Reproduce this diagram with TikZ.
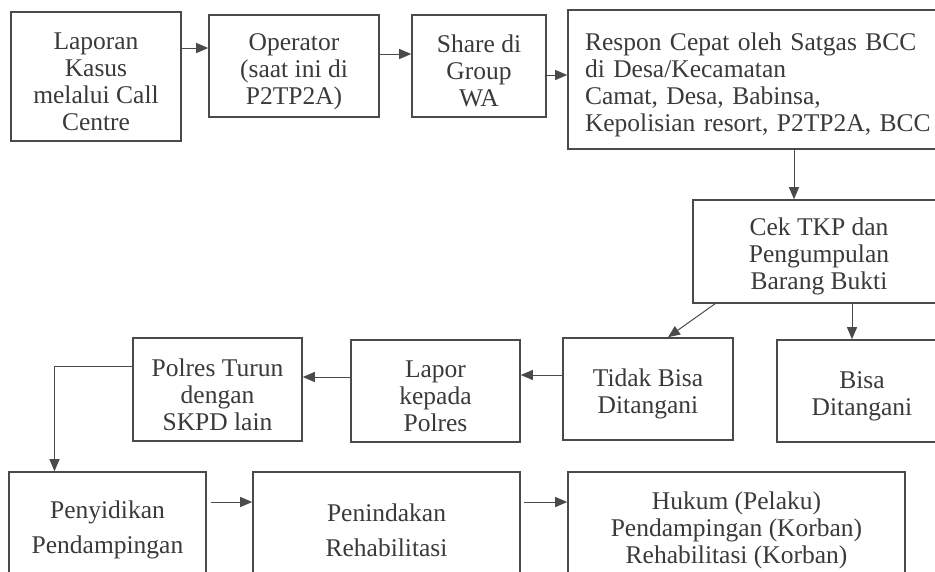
\documentclass[tikz,border=0pt]{standalone}
\usepackage{fontspec}
\setmainfont{Liberation Serif}
\usetikzlibrary{arrows.meta}
\definecolor{linegray}{HTML}{4A4A4A}
\definecolor{textgray}{HTML}{3A3A3A}
\newcommand{\tstrut}{\rule{0pt}{28pt}}
\tikzset{
  box/.style={draw=linegray,line width=1.6pt,align=center,inner sep=0pt,
    text=textgray,font=\fontsize{25.5}{27}\selectfont},
  arr/.style={draw=linegray,line width=1pt,-{Triangle[length=12pt,width=10pt]}}
}
\begin{document}
\begin{tikzpicture}[x=1pt,y=-1pt]
  \useasboundingbox (0,0) rectangle (935,571);
  \clip (0,0) rectangle (935,571);
  \begin{scope}[every node/.style={box}]
    % top row
    \node[minimum width=170pt,minimum height=129pt] (lap) at (96,76.5) {\tstrut Laporan\\Kasus\\melalui Call\\Centre};
    \node[minimum width=170pt,minimum height=102pt] (opr) at (294,66) {\tstrut Operator\\(saat ini di\\P2TP2A)};
    \node[minimum width=134pt,minimum height=102pt] (share) at (479,66) {\tstrut Share di\\Group\\WA};
    \node[text width=358pt,align=left,inner xsep=17pt,minimum height=139pt] (respon) at (764,79.5)
      {\tstrut Respon Cepat oleh Satgas BCC\\di Desa/Kecamatan\\Camat, Desa, Babinsa,\\Kepolisian resort, P2TP2A, BCC};
    \node[minimum width=252pt,minimum height=103pt] (cek) at (819,251.5) {\tstrut Cek TKP dan\\Pengumpulan\\Barang Bukti};
    % middle row
    \node[minimum width=170pt,minimum height=102pt] (bisa) at (862,391) {\tstrut Bisa\\Ditangani};
    \node[minimum width=170pt,minimum height=102pt] (tidak) at (648,389) {\tstrut Tidak Bisa\\Ditangani};
    \node[minimum width=169pt,minimum height=102pt] (lapor) at (435.5,391) {\tstrut Lapor\\kepada\\Polres};
    \node[minimum width=169pt,minimum height=103pt] (polres) at (217.5,389.5) {\tstrut Polres Turun\\dengan\\SKPD lain};
    % bottom row
    \node[minimum width=197pt,minimum height=106pt] (peny) at (107.5,525) {\tstrut Penyidikan\\[8pt]Pendampingan};
    \node[minimum width=267pt,minimum height=106pt] (penind) at (386.5,525) {\tstrut Penindakan\\[8pt]Rehabilitasi};
    \node[minimum width=337pt,minimum height=106pt] (hukum) at (736.5,525) {\tstrut Hukum (Pelaku)\\Pendampingan (Korban)\\Rehabilitasi (Korban)};
  \end{scope}
  \coordinate (c1) at ([yshift=18pt]opr.west);
  \coordinate (c3) at ([yshift=-9pt]share.east);
  \coordinate (c4) at ([xshift=-25pt]cek.north);
  \coordinate (c5) at ([xshift=-10pt]bisa.north);
  \coordinate (c6) at ([yshift=14pt]tidak.west);
  \coordinate (c7) at ([yshift=14pt]lapor.west);
  \coordinate (c8) at ([yshift=23pt]penind.west);
  \draw[arr] (c1 -| lap.east) -- (c1);
  \draw[arr] ([yshift=12pt]opr.east) -- ([yshift=12pt]share.west);
  \draw[arr] (c3) -- (c3 -| respon.west);
  \draw[arr] (c4 |- respon.south) -- (c4);
  \draw[arr] ([xshift=-104pt]cek.south) -- ([xshift=20pt]tidak.north);
  \draw[arr] (c5 |- cek.south) -- (c5);
  \draw[arr] (c6) -- (c6 -| lapor.east);
  \draw[arr] (c7) -- (c7 -| polres.east);
  \draw[arr] ([yshift=23pt]polres.west) -| ([xshift=-53pt]peny.north);
  \draw[arr] ([xshift=4pt]c8 -| peny.east) -- (c8);
  \draw[arr] ([xshift=3pt]c8 -| penind.east) -- (c8 -| hukum.west);
\end{tikzpicture}
\end{document}
